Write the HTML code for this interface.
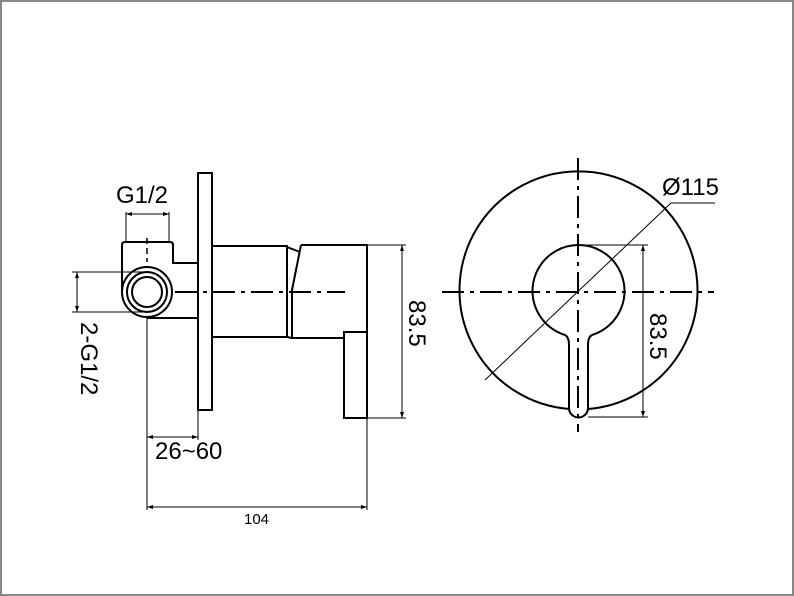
<!DOCTYPE html>
<html><head><style>
html,body{margin:0;padding:0;background:#fff}
svg{display:block}
text{font-family:"Liberation Sans",sans-serif;fill:#000}
</style></head><body>
<svg width="794" height="596" viewBox="0 0 794 596" xmlns="http://www.w3.org/2000/svg">
<rect x="1" y="1" width="792" height="594" fill="#fff" stroke="#888" stroke-width="2"/>
<g fill="none" stroke="#000" stroke-width="2">
<rect x="198" y="173" width="14" height="237"/>
<polyline points="212,246 287,246 287,337 212,337"/>
<line x1="287" y1="247" x2="300" y2="252"/>
<line x1="287" y1="337" x2="292" y2="338"/>
<polyline points="301,245 367,245 367,418 344,418 344,332 367,332"/>
<polyline points="301,245 292,290 292,338 344,338"/>
<path d="M122,292 L122,245 Q122,242 125,242 L170,242 Q173,242 173,245 L173,263 L198,263"/>
<line x1="147" y1="318" x2="198" y2="318"/>
<circle cx="147" cy="292" r="25"/>
<circle cx="147" cy="292" r="20"/>
<circle cx="147" cy="292" r="15"/>
<path d="M569,409 A119,119 0 1 1 588,409"/>
<path d="M565,335 Q569,337 569,345 L569,408 A9.5,9.5 0 0 0 588,408 L588,345 Q588,337 592,335 A46,46 0 1 0 565,335 Z"/>
</g>
<g fill="none" stroke="#000" stroke-width="2" stroke-dasharray="22,6,4,6">
<line x1="175" y1="292" x2="345" y2="292"/>
<line x1="442" y1="292" x2="714" y2="292"/>
<line x1="578" y1="158" x2="578" y2="432"/>
</g>
<g fill="none" stroke="#000" stroke-width="1.5" stroke-dasharray="6,4">
<line x1="147" y1="238" x2="147" y2="262"/>
</g>
<g fill="none" stroke="#000" stroke-width="1">
<line x1="126" y1="212" x2="126" y2="242"/><line x1="169" y1="212" x2="169" y2="242"/>
<line x1="126" y1="214" x2="169" y2="214"/>
<line x1="72" y1="272" x2="147" y2="272"/><line x1="72" y1="312" x2="147" y2="312"/>
<line x1="77" y1="272" x2="77" y2="312"/>
<line x1="147" y1="318" x2="147" y2="510"/><line x1="198" y1="410" x2="198" y2="440"/>
<line x1="147" y1="437" x2="198" y2="437"/>
<line x1="367" y1="418" x2="367" y2="510"/>
<line x1="147" y1="507" x2="367" y2="507"/>
<line x1="367" y1="245" x2="406" y2="245"/><line x1="367" y1="418" x2="406" y2="418"/>
<line x1="402" y1="245" x2="402" y2="418"/>
<line x1="485" y1="380" x2="671" y2="203"/><line x1="671" y1="203" x2="715" y2="203"/>
<line x1="578" y1="245" x2="648" y2="245"/><line x1="588" y1="417" x2="648" y2="417"/>
<line x1="643" y1="245" x2="643" y2="417"/>
</g>
<g fill="#000">
<polygon points="126,214 132,212 132,216"/><polygon points="169,214 163,212 163,216"/>
<polygon points="77,272 75,278 79,278"/><polygon points="77,312 75,306 79,306"/>
<polygon points="147,437 153,435 153,439"/><polygon points="198,437 192,435 192,439"/>
<polygon points="147,507 153,505 153,509"/><polygon points="367,507 361,505 361,509"/>
<polygon points="402,245 400,251 404,251"/><polygon points="402,418 400,412 404,412"/>
<polygon points="643,245 641,251 645,251"/><polygon points="643,417 641,411 645,411"/>
</g>
<text x="116" y="203" font-size="24">G1/2</text>
<text x="155" y="459" font-size="24">26~60</text>
<text x="244" y="524" font-size="15">104</text>
<text x="662" y="195" font-size="24">Ø115</text>
<text transform="translate(81,322) rotate(90)" font-size="24">2-G1/2</text>
<text transform="translate(409,300) rotate(90)" font-size="24">83.5</text>
<text transform="translate(650,313) rotate(90)" font-size="24">83.5</text>
</svg>
</body></html>
